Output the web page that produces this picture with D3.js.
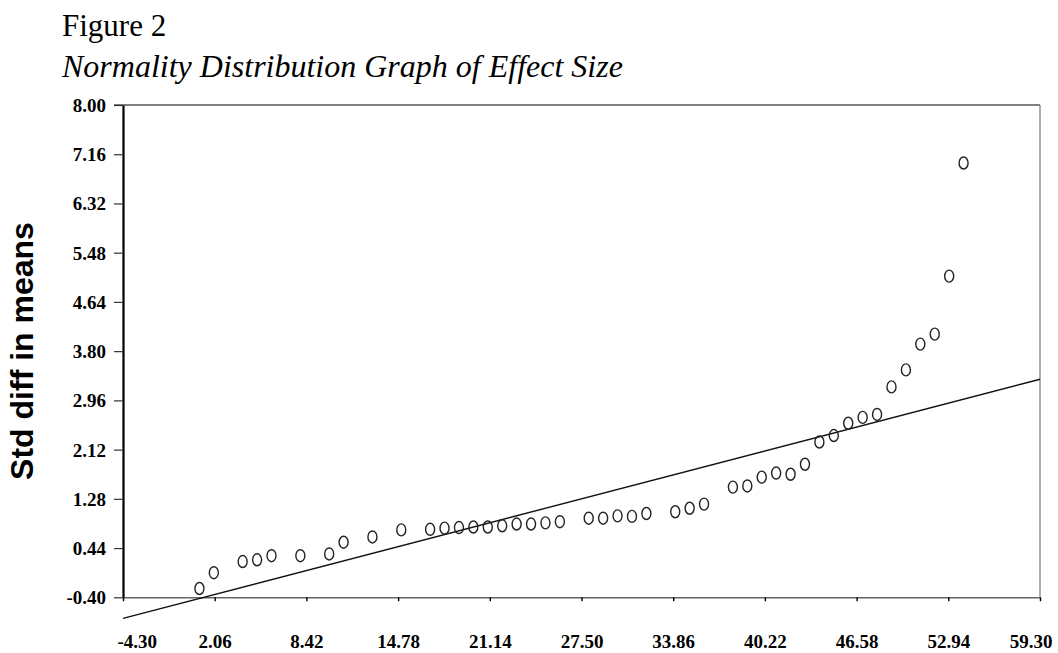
<!DOCTYPE html>
<html>
<head>
<meta charset="utf-8">
<script src="https://cdn.jsdelivr.net/npm/d3@7"></script>
<style>
  body { margin: 0; background: #fff; }
  svg { display: block; }
</style>
</head>
<body>
<svg width="1058" height="653"></svg>
<script>
// Study rank (x) and std diff in means (y)
var ranks = [1, 2, 4, 5, 6, 8, 10, 11, 13, 15, 17, 18, 19, 20, 21, 22, 23, 24, 25, 26,
    28, 29, 30, 31, 32, 34, 35, 36, 38, 39, 40, 41, 42, 43, 44, 45, 46, 47, 48, 49,
    50, 51, 52, 53, 54];
var effects = [-0.25, 0.02, 0.21, 0.24, 0.31, 0.31, 0.34, 0.54, 0.63, 0.75, 0.76, 0.78, 0.79, 0.80, 0.80, 0.82, 0.85, 0.85, 0.87, 0.89,
    0.95, 0.95, 0.99, 0.98, 1.03, 1.06, 1.12, 1.19, 1.48, 1.50, 1.65, 1.72, 1.70, 1.87, 2.25, 2.36, 2.57, 2.67, 2.72, 3.19,
    3.48, 3.92, 4.09, 5.08, 7.01];

// Reference line end points
var lineX = [-4.30, 59.30];
var lineY = [-0.76, 3.32];

// Tick labels
var xTicks = [-4.30, 2.06, 8.42, 14.78, 21.14, 27.50, 33.86, 40.22, 46.58, 52.94, 59.30];
var yTicks = [-0.40, 0.44, 1.28, 2.12, 2.96, 3.80, 4.64, 5.48, 6.32, 7.16, 8.00];

var svg = d3.select('svg');

var plot = {l: 123, r: 1040, t: 105, b: 597.3};

var x = d3.scaleLinear().domain([-4.30, 59.30]).range([plot.l, plot.r]);
var y = d3.scaleLinear().domain([-0.40, 8.00]).range([plot.b, plot.t]);

// Titles
svg.append('text')
    .attr('x', 62).attr('y', 36)
    .style('font-family', '"Liberation Serif", "Times New Roman", serif')
    .style('font-size', '31px')
    .text('Figure 2');

svg.append('text')
    .attr('x', 62).attr('y', 77)
    .style('font-family', '"Liberation Serif", "Times New Roman", serif')
    .style('font-size', '32px')
    .style('font-style', 'italic')
    .text('Normality Distribution Graph of Effect Size');

// Frame: top and right sides
svg.append('line')
    .attr('x1', plot.l - 9).attr('x2', plot.r)
    .attr('y1', plot.t).attr('y2', plot.t)
    .attr('stroke', '#000').attr('stroke-width', 1.2);
svg.append('line')
    .attr('x1', plot.r).attr('x2', plot.r)
    .attr('y1', plot.t).attr('y2', plot.b)
    .attr('stroke', '#777').attr('stroke-width', 1.2);

// Axes
var fmt = function(d) { return d.toFixed(2); };

var xAxisG = svg.append('g')
    .attr('transform', 'translate(0,' + plot.b + ')')
    .call(d3.axisBottom(x).tickValues(xTicks).tickFormat(fmt).tickSizeInner(4).tickSizeOuter(0));
xAxisG.select('.domain').attr('stroke', '#666').attr('stroke-width', 1.6);
xAxisG.selectAll('.tick line').attr('stroke', '#000').attr('stroke-width', 1.4);
xAxisG.selectAll('.tick text')
    .attr('y', 51).attr('dy', 0)
    .attr('fill', '#000')
    .style('font-family', '"Liberation Serif", "Times New Roman", serif')
    .style('font-size', '19px')
    .style('font-weight', 'bold');
// end labels are kept inside the frame, as in the original
xAxisG.selectAll('.tick text')
    .filter(function(d, i) { return i === 0; })
    .attr('text-anchor', 'start').attr('x', -6);
xAxisG.selectAll('.tick text')
    .filter(function(d, i) { return i === xTicks.length - 1; })
    .attr('text-anchor', 'end').attr('x', 12);

var yAxisG = svg.append('g')
    .attr('transform', 'translate(' + plot.l + ',0)')
    .call(d3.axisLeft(y).tickValues(yTicks).tickFormat(fmt).tickSizeInner(9).tickSizeOuter(0));
yAxisG.select('.domain').attr('stroke', '#000').attr('stroke-width', 2.2);
yAxisG.selectAll('.tick line').attr('stroke', '#333').attr('stroke-width', 1.2);
yAxisG.selectAll('.tick text')
    .attr('x', -17).attr('dy', '0.34em')
    .attr('fill', '#000')
    .style('font-family', '"Liberation Serif", "Times New Roman", serif')
    .style('font-size', '19px')
    .style('font-weight', 'bold');

// Y axis title
svg.append('text')
    .attr('transform', 'translate(33,351) rotate(-90)')
    .attr('text-anchor', 'middle')
    .style('font-family', '"Liberation Sans", Arial, sans-serif')
    .style('font-size', '32px')
    .style('font-weight', 'bold')
    .text('Std diff in means');

// Reference line (extends below the x axis on the left)
svg.append('line')
    .attr('x1', x(lineX[0])).attr('y1', y(lineY[0]))
    .attr('x2', x(lineX[1])).attr('y2', y(lineY[1]))
    .attr('stroke', '#111').attr('stroke-width', 1.4);

// Points
svg.selectAll('.pt')
    .data(ranks)
    .enter()
    .append('ellipse')
    .attr('class', 'pt')
    .attr('cx', function(d) { return x(d); })
    .attr('cy', function(d, i) { return y(effects[i]); })
    .attr('rx', 4.5)
    .attr('ry', 6)
    .attr('fill', 'none')
    .attr('stroke', '#222')
    .attr('stroke-width', 1.4);
</script>
</body>
</html>
